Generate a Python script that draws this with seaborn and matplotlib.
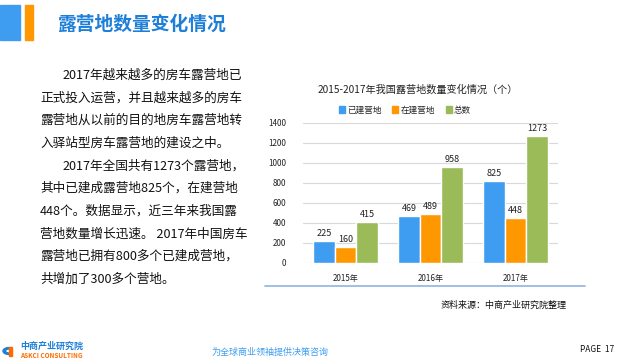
import pandas as pd
import matplotlib.pyplot as plt
import matplotlib.patches as mpatches
from matplotlib.lines import Line2D
import seaborn as sns

years = ["2015年", "2016年", "2017年"]
series = ["已建营地", "在建营地", "总数"]
built = [225, 469, 825]
building = [160, 489, 448]
total = [415, 958, 1273]
colors = ["#3E9DF0", "#FF9800", "#9BBB59"]

body_lines = [
    "2017年越来越多的房车露营地已",
    "正式投入运营，并且越来越多的房车",
    "露营地从以前的目的地房车露营地转",
    "入驿站型房车露营地的建设之中。",
    "2017年全国共有1273个露营地，",
    "其中已建成露营地825个，在建营地",
    "448个。数据显示，近三年来我国露",
    "营地数量增长迅速。 2017年中国房车",
    "露营地已拥有800多个已建成营地，",
    "共增加了300多个营地。",
]
indented = [0, 4]

df = pd.DataFrame({
    "year": years * 3,
    "kind": [s for s in series for _ in years],
    "value": built + building + total,
})

sns.set_style("white")
plt.rcParams["font.family"] = ["Noto Sans CJK SC", "DejaVu Sans"]

W, H = 625, 360
fig = plt.figure(figsize=(6.25, 3.6), dpi=100)

def px(x, y):
    return x / W, 1 - y / H

# header blocks and title
fig.patches.append(mpatches.Rectangle(px(0, 40), 20 / W, 35 / H, color="#3E9DF0", transform=fig.transFigure))
fig.patches.append(mpatches.Rectangle(px(25, 40), 8 / W, 35 / H, color="#FF9800", transform=fig.transFigure))
fig.text(*px(57, 24), "露营地数量变化情况", fontsize=13.5, fontweight="bold",
         color="#1E7FD8", va="center", ha="left")

# left paragraph
for i, line in enumerate(body_lines):
    x = 63 if i in indented else 40
    fig.text(*px(x, 75 + i * 22.7), line, fontsize=9.1, color="#111111",
             va="center", ha="left")

# chart
ax = fig.add_axes([303 / W, 1 - 263 / H, 255 / W, 140 / H])
sns.barplot(data=df, x="year", y="value", hue="kind", palette=colors,
            width=0.76, gap=0, saturation=1, ax=ax, legend=False)
ax.set_ylim(0, 1400)
ax.set_yticks(range(0, 1401, 200))
ax.grid(axis="y", color="#D9D9D9", linewidth=0.8)
ax.set_axisbelow(True)
sns.despine(ax=ax, left=True, bottom=True)
ax.set_xlabel("")
ax.set_ylabel("")
ax.tick_params(axis="both", length=0, labelsize=5.8, colors="#222222")
ax.tick_params(axis="x", pad=8)
ax.tick_params(axis="y", pad=12)
for c in ax.containers:
    ax.bar_label(c, fontsize=6.5, color="#222222", padding=2)

fig.text(*px(418, 90), "2015-2017年我国露营地数量变化情况（个）", fontsize=7.3,
         color="#222222", ha="center", va="center")
handles = [mpatches.Patch(color=c, label=s) for c, s in zip(colors, series)]
fig.legend(handles=handles, loc="center", bbox_to_anchor=px(405, 110), ncol=3,
           frameon=False, fontsize=6.2, handlelength=0.7, handleheight=0.7,
           handletextpad=0.3, columnspacing=1.2)

fig.lines.append(Line2D([265 / W, 585 / W], [1 - 286 / H] * 2, color="#8DB4E2",
                        linewidth=1.2, transform=fig.transFigure))
fig.text(*px(567, 305), "资料来源：中商产业研究院整理", fontsize=6.5,
         color="#111111", ha="right", va="center")

# footer
fig.patches.append(mpatches.Wedge(px(9, 351), 6 / W, 60, 300, width=2.5 / W,
                                  color="#1E7FD8", transform=fig.transFigure))
fig.patches.append(mpatches.Rectangle(px(9, 356), 2.5 / W, 9 / H, color="#FF6A00",
                                      transform=fig.transFigure))
fig.text(*px(20, 346), "中商产业研究院", fontsize=6.5, fontweight="bold",
         color="#1E7FD8", ha="left", va="center")
fig.text(*px(20, 356), "ASKCI CONSULTING", fontsize=4.6, fontweight="bold",
         color="#FF6A00", ha="left", va="center")
fig.text(*px(270, 352), "为全球商业领袖提供决策咨询", fontsize=6.5, style="italic",
         color="#3E9DF0", ha="center", va="center")
fig.text(*px(614, 349), "PAGE  17", fontsize=6, color="#111111",
         ha="right", va="center")

fig.savefig("out.png", dpi=100)
